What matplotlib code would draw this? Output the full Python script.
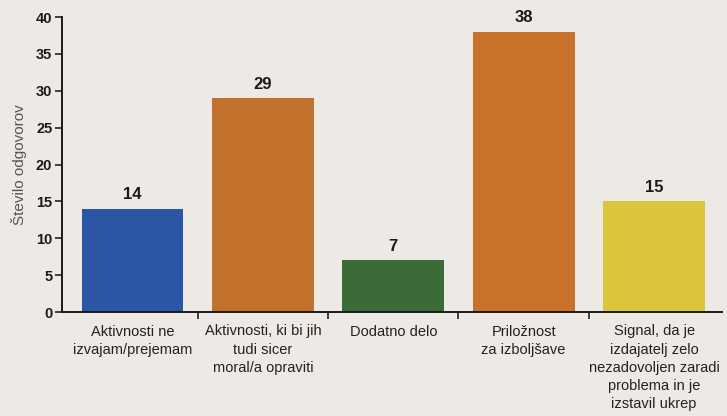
import matplotlib
matplotlib.use("Agg")
import matplotlib.pyplot as plt
from matplotlib import font_manager

names = {f.name for f in font_manager.fontManager.ttflist}
narrow = "Liberation Sans Narrow" if "Liberation Sans Narrow" in names else "Liberation Sans"

categories = ["Aktivnosti ne\nizvajam/prejemam",
              "Aktivnosti, ki bi jih\ntudi sicer\nmoral/a opraviti",
              "Dodatno delo",
              "Priložnost\nza izboljšave",
              "Signal, da je\nizdajatelj zelo\nnezadovoljen zaradi\nproblema in je\nizstavil ukrep"]
values = [14, 29, 7, 38, 15]
colors = ["#2a56a4", "#c2712d", "#3b6b36", "#c8722c", "#dcc53c"]
yticks = [0, 5, 10, 15, 20, 25, 30, 35, 40]
ylabel = "Število odgovorov"

bg = "#edeae6"
fig = plt.figure(figsize=(7.27, 4.16), dpi=100, facecolor=bg)
ax = fig.add_axes([0.0853, 0.25, 0.9077, 0.709], facecolor=bg)

x = list(range(len(values)))
ax.bar(x, values, width=0.78, color=colors, zorder=2)
for xi, v in zip(x, values):
    ax.text(xi, v + 0.9, str(v), ha="center", va="bottom", fontsize=12,
            fontweight="bold", color="#1a1a1a", family="Liberation Sans")

ax.set_xlim(-0.54, 4.52)
ax.set_ylim(0, 40)
ax.set_yticks(yticks)
ax.set_yticklabels([str(t) for t in yticks], fontweight="bold", fontsize=10.5,
                   family="Liberation Sans", color="#1a1a1a")
ax.set_xticks(x)
ax.set_xticklabels(categories, fontsize=10.5, family=narrow, color="#222222",
                   linespacing=1.38)
ax.set_xticks([0.5, 1.5, 2.5, 3.5], minor=True)
ax.tick_params(axis="x", which="major", length=0, pad=9)
ax.tick_params(axis="x", which="minor", length=5, width=1.2, direction="out", color="#222222")
ax.tick_params(axis="y", length=5, width=1.2, direction="out", color="#222222", pad=2)
ax.spines["top"].set_visible(False)
ax.spines["right"].set_visible(False)
for s in ["left", "bottom"]:
    ax.spines[s].set_linewidth(1.4)
    ax.spines[s].set_color("#1a1a1a")
ax.set_ylabel(ylabel, fontsize=11, family="Liberation Sans", color="#555555", labelpad=6)

fig.savefig("out.png", dpi=100, facecolor=bg)
